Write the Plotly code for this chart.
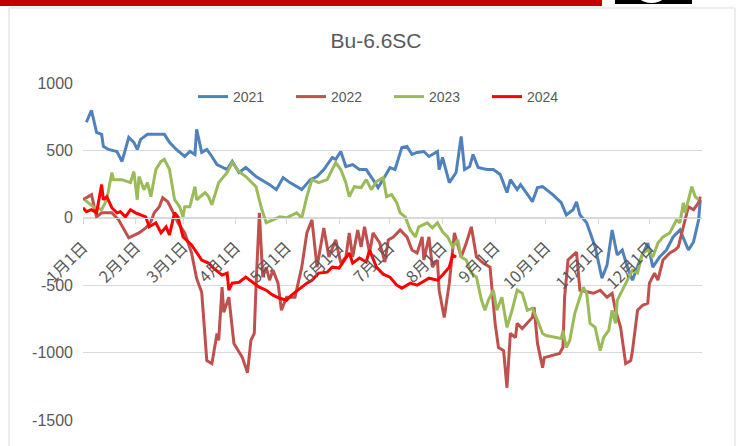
import plotly.graph_objects as go

# ---------------- data ----------------
month_days = [0, 31, 59, 90, 120, 151, 181, 212, 243, 273, 304, 334]
month_labels = ["1月1日", "2月1日", "3月1日", "4月1日", "5月1日", "6月1日",
                "7月1日", "8月1日", "9月1日", "10月1日", "11月1日", "12月1日"]
y_ticks = [1000, 500, 0, -500, -1000, -1500]
y_labels = ["1000", "500", "0", "-500", "-1000", "-1500"]

d2021 = [2, 5, 8, 11, 12, 15, 20, 23, 27, 30, 32, 34, 38, 48, 51, 55, 60, 63, 66, 67,
         70, 73, 76, 79, 85, 88, 92, 96, 102, 110, 114, 118, 122, 126, 129, 134, 138,
         142, 147, 149, 152, 155, 159, 163, 167, 171, 174, 178, 181, 184, 188, 191, 194,
         197, 201, 204, 209, 210, 212, 216, 220, 223, 225, 228, 230, 233, 238, 242, 246,
         250, 252, 256, 258, 263, 265, 268, 271, 277, 282, 285, 289, 291, 293, 297, 299,
         302, 306, 309, 312, 315, 318, 321, 324, 328, 333, 336, 340, 344, 348, 352, 357,
         360, 363, 364]
v2021 = [709, 798, 634, 619, 530, 507, 492, 418, 597, 560, 507, 582, 619, 619, 560, 507,
         455, 492, 470, 656, 485, 507, 455, 395, 358, 418, 336, 373, 306, 246, 209, 298,
         261, 231, 209, 283, 306, 358, 448, 433, 492, 380, 395, 358, 358, 283, 224, 306,
         373, 358, 522, 530, 470, 485, 492, 455, 492, 358, 448, 261, 336, 604, 358, 380,
         470, 373, 358, 358, 321, 187, 283, 209, 246, 157, 119, 224, 231, 172, 112, 22,
         60, 119, 22, -37, -112, -216, -448, -351, -90, -276, -239, -366, -463, -328,
         -187, -366, -291, -239, -142, -90, -239, -179, -15, 134]

d2022 = [0, 5, 8, 11, 17, 21, 27, 33, 37, 40, 42, 45, 47, 50, 53, 56, 60, 64, 67, 70,
         73, 76, 79, 80, 82, 83, 86, 89, 94, 97, 99, 101, 102, 104, 106, 108, 110, 112,
         115, 117, 120, 125, 129, 132, 135, 138, 142, 145, 149, 152, 155, 157, 159, 162,
         164, 166, 169, 171, 175, 178, 180, 183, 187, 191, 194, 197, 200, 201, 204, 206,
         209, 210, 213, 216, 219, 223, 226, 229, 232, 236, 240, 243, 245, 248, 250, 252,
         255, 256, 259, 262, 265, 266, 268, 271, 272, 281, 283, 284, 286, 291, 293, 301,
         305, 309, 312, 314, 317, 320, 323, 324, 327, 330, 333, 334, 337, 339, 342, 346,
         349, 351, 353, 355, 357, 360, 363, 364]
v2022 = [134, 172, 7, 37, 37, -15, -149, -112, -75, -30, 37, 82, 149, 119, 45, -37, -112,
         -260, -450, -552, -1059, -1082, -858, -910, -515, -701, -589, -932, -1037, -1149,
         -910, -858, -515, 37, -440, -366, -463, -388, -485, -686, -589, -589, -366, -112,
         -15, -366, -75, -291, -164, -336, -291, -112, -291, -90, -216, -67, -261, -112,
         -187, -328, -164, -142, -90, -142, -239, -261, -142, -313, -142, -366, -313, -537,
         -739, -485, -112, -291, -187, -67, -291, -336, -366, -783, -962, -985, -1261, -858,
         -888, -783, -821, -783, -739, -664, -932, -1112, -1037, -1007, -962, -589, -313,
         -254, -537, -560, -537, -589, -560, -686, -813, -1082, -1059, -985, -686, -649,
         -634, -485, -410, -463, -313, -261, -239, -216, -112, -15, 82, 60, 112, 157]

d2023 = [1, 6, 11, 14, 17, 18, 23, 28, 30, 32, 33, 36, 38, 40, 43, 46, 48, 51, 54, 57,
         59, 60, 63, 66, 67, 72, 74, 76, 80, 85, 88, 92, 96, 102, 105, 108, 112, 116, 120,
         126, 129, 132, 135, 139, 144, 147, 149, 152, 155, 157, 160, 164, 167, 170, 173,
         177, 179, 182, 185, 187, 190, 193, 196, 198, 203, 206, 209, 212, 215, 218, 221,
         223, 226, 229, 232, 235, 237, 239, 242, 244, 247, 250, 253, 256, 259, 262, 265,
         268, 271, 273, 279, 282, 283, 285, 287, 290, 293, 295, 297, 299, 302, 305, 307,
         310, 312, 314, 315, 318, 321, 324, 327, 330, 333, 336, 339, 342, 346, 350, 352,
         354, 355, 359, 361, 363]
v2023 = [134, 82, 60, 134, 336, 283, 283, 261, 343, 134, 306, 209, 261, 157, 358, 418,
         433, 358, 134, 82, 7, 82, 82, 231, 134, 187, 157, 97, 261, 336, 410, 343, 306, 231,
         82, -37, -15, 7, 0, 37, 0, 157, 283, 261, 283, 358, 410, 358, 261, 157, 231, 224,
         283, 209, 269, 298, 157, 172, 112, 37, 7, -90, -142, -67, -37, -75, -37, -104,
         -142, -216, -164, -291, -313, -410, -440, -612, -686, -612, -537, -686, -589, -813,
         -686, -537, -560, -686, -671, -761, -858, -873, -888, -895, -836, -962, -910, -709,
         -589, -515, -560, -783, -813, -985, -888, -836, -686, -783, -612, -537, -463, -388,
         -410, -261, -239, -291, -187, -142, -112, -15, -37, 112, 37, 231, 157, 134]

d2024 = [0, 2, 5, 8, 11, 12, 14, 17, 20, 22, 25, 28, 31, 34, 37, 39, 43, 46, 49, 51, 54,
         56, 59, 64, 67, 70, 74, 77, 82, 85, 86, 88, 92, 96, 100, 104, 108, 112, 116, 120,
         123, 128, 132, 135, 139, 144, 147, 151, 153, 157, 159, 163, 167, 169, 173, 177,
         181, 185, 188, 193, 197, 200, 204, 209, 212, 216, 218, 220]
v2024 = [75, 45, 60, 37, 246, 134, 157, 75, 37, 45, 7, 60, 37, 22, 7, -67, -37, -112,
         -67, -127, 37, 7, -142, -201, -261, -313, -336, -373, -425, -410, -537, -485,
         -478, -440, -478, -515, -537, -574, -597, -612, -574, -522, -485, -463, -410,
         -403, -366, -373, -336, -261, -336, -298, -328, -239, -366, -418, -440, -500,
         -522, -485, -500, -478, -448, -463, -425, -366, -276, -291]

series = [("2021", d2021, v2021, "#4F81BD"),
          ("2022", d2022, v2022, "#C0504D"),
          ("2023", d2023, v2023, "#9BBB59"),
          ("2024", d2024, v2024, "#FF0000")]

# ---------------- figure ----------------
W, H = 737, 446
ML, MR, MT, MB = 83, 35, 83, 26
PW, PH = W - ML - MR, H - MT - MB


def px_x(px):
    return (px - ML) / PW


def px_y(py):
    return (H - MB - py) / PH


fig = go.Figure()
for name, xs, ys, col in series:
    fig.add_trace(go.Scatter(x=xs, y=ys, name=name, mode="lines",
                             line=dict(color=col, width=3)))

gray = "#595959"
fig.update_layout(
    width=W, height=H,
    margin=dict(l=ML, r=MR, t=MT, b=MB),
    paper_bgcolor="white", plot_bgcolor="white",
    font=dict(family="Liberation Sans, Arial, sans-serif", color=gray),
    title=dict(text="Bu-6.6SC", xref="paper", x=px_x(376), xanchor="center",
               yref="container", y=1 - 41 / H, yanchor="middle",
               font=dict(size=21, color=gray)),
    legend=dict(orientation="h", xanchor="left", x=px_x(193), yanchor="middle",
                y=px_y(97), bgcolor="rgba(0,0,0,0)", font=dict(size=14, color=gray),
                entrywidth=53, entrywidthmode="pixels"),
    showlegend=True,
)
fig.update_yaxes(range=[-1500, 1000], tickvals=y_ticks, ticktext=y_labels,
                 showgrid=True, gridcolor="#D9D9D9", gridwidth=1, zeroline=False,
                 showline=False, ticks="", ticklabelstandoff=9,
                 tickfont=dict(size=16, color=gray))
fig.update_xaxes(range=[0, 365], tickvals=month_days, ticktext=month_labels,
                 anchor="free", position=0.6, showgrid=False, zeroline=False,
                 showline=True, linecolor="#D9D9D9", linewidth=1,
                 ticks="outside", ticklen=5, tickcolor="#D9D9D9", tickangle=-45,
                 ticklabelstandoff=8,
                 tickfont=dict(size=16, color=gray,
                               family="Noto Sans CJK SC, Liberation Sans, sans-serif"))

shapes = [
    dict(type="rect", xref="paper", yref="paper", x0=px_x(9), x1=px_x(735),
         y0=px_y(450), y1=px_y(8), line=dict(color="#D9D9D9", width=1),
         fillcolor="rgba(0,0,0,0)", layer="below"),
    dict(type="rect", xref="paper", yref="paper", x0=px_x(0), x1=px_x(602),
         y0=px_y(6), y1=px_y(0), line=dict(width=0), fillcolor="#C00000"),
    dict(type="rect", xref="paper", yref="paper", x0=px_x(615), x1=px_x(692),
         y0=px_y(4), y1=px_y(0), line=dict(width=0), fillcolor="black"),
    dict(type="circle", xref="paper", yref="paper", x0=px_x(633), x1=px_x(670),
         y0=px_y(3), y1=px_y(-30), line=dict(width=0), fillcolor="white"),
]
fig.update_layout(shapes=shapes)

fig.write_html("out.html", config={"displayModeBar": False},
               post_script="document.body.style.margin='0';"
                           "document.body.style.overflow='hidden';")
